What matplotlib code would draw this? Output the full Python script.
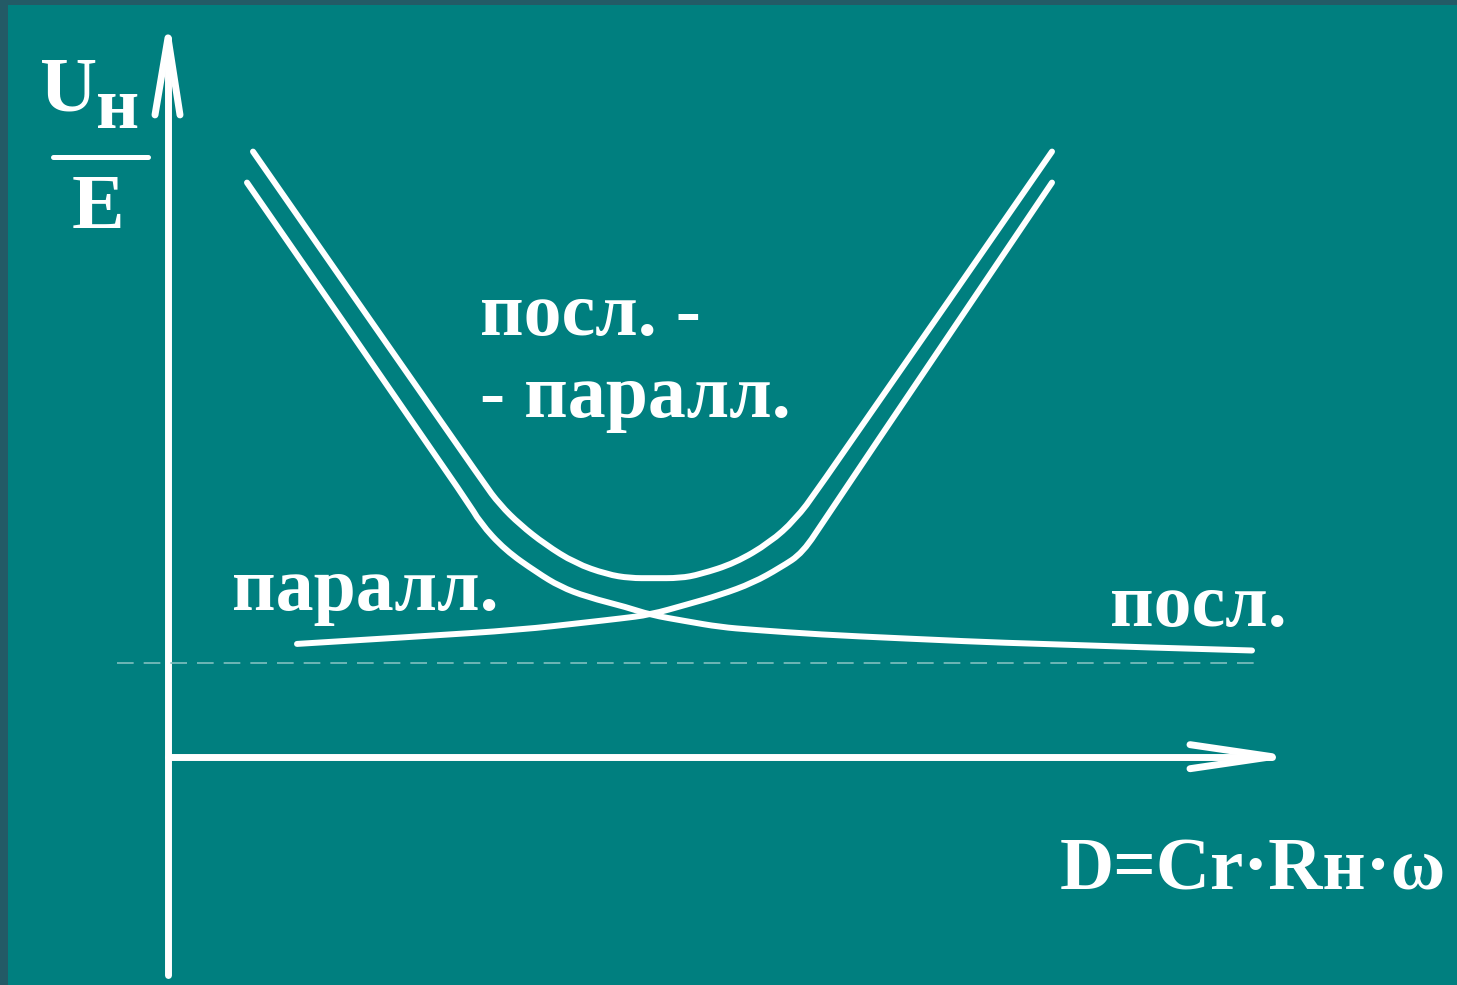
import numpy as np
from matplotlib import pyplot as plt
from matplotlib.path import Path
from matplotlib.patches import PathPatch

# --- данные (D = Cr*Rн*w по оси x, Uн/E по оси y) ---
# последовательно-параллельная схема
sp_x = [0.85, 3.15, 3.32, 3.52, 3.77, 4.07, 4.39, 4.62, 4.85, 5.12, 5.32, 5.67, 6.02, 6.27, 6.50, 8.84]
sp_y = [6.44, 2.92, 2.68, 2.47, 2.26, 2.06, 1.94, 1.90, 1.90, 1.90, 1.94, 2.06, 2.28, 2.52, 2.84, 6.44]
# последовательная схема
ser_x = [0.79, 2.99, 3.12, 3.37, 3.69, 3.92, 4.19, 4.59, 4.82, 5.19, 5.52, 5.85, 6.52, 7.32, 8.59, 10.84]
ser_y = [6.11, 2.73, 2.49, 2.20, 1.96, 1.81, 1.70, 1.59, 1.51, 1.44, 1.38, 1.35, 1.30, 1.26, 1.20, 1.13]
# параллельная схема
par_x = [1.29, 2.52, 3.52, 4.19, 4.52, 4.82, 5.19, 5.52, 5.85, 6.12, 6.35, 6.58, 8.84]
par_y = [1.20, 1.28, 1.35, 1.43, 1.47, 1.51, 1.62, 1.72, 1.85, 2.01, 2.17, 2.55, 6.11]
# асимптота Uн/E = 1
asym_x = [-0.51, 10.87]
asym_y = [1.0, 1.0]

bg = '#007f7f'
white = 'white'
font = 'Liberation Serif'


def smooth(xs, ys):
    # гладкая кривая (квадратичный B-сплайн по опорным точкам)
    p = np.column_stack([xs, ys])
    verts, codes = [p[0]], [Path.MOVETO]
    for i in range(1, len(p) - 1):
        end = (p[i] + p[i + 1]) / 2 if i < len(p) - 2 else p[-1]
        verts += [p[i], end]
        codes += [Path.CURVE3, Path.CURVE3]
    return Path(verts, codes)


fig = plt.figure(figsize=(14.57, 9.85), dpi=100, facecolor='#235a66')
ax = fig.add_axes([8 / 1457, 0, 1 - 8 / 1457, 1 - 5 / 985], facecolor=bg)
ax.set_xlim(-1.60, 12.89)
ax.set_ylim(-2.43, 8.00)
ax.set_xticks([])
ax.set_yticks([])
for s in ax.spines.values():
    s.set_visible(False)

# оси со стрелками
akw = dict(color=white, lw=5, solid_capstyle='round', solid_joinstyle='round')
ax.plot([0, 0], [-2.32, 7.65], **akw)
ax.plot([-0.13, 0, 0.12], [6.83, 7.65, 6.83], **akw)
ax.plot([0, 11.04], [0, 0], **akw)
ax.plot([10.22, 11.04, 10.22], [0.128, 0, -0.128], **akw)

ax.plot(asym_x, asym_y, color='#80bfbf', lw=1.2, linestyle=(0, (10, 6)))

for xs, ys in [(sp_x, sp_y), (ser_x, ser_y), (par_x, par_y)]:
    ax.add_patch(PathPatch(smooth(xs, ys), fill=False, edgecolor=white, lw=4.3,
                           capstyle='round', joinstyle='round'))

tkw = dict(color=white, fontfamily=font, fontweight='bold', va='baseline')
ax.text(3.12, 4.49, 'посл. -', fontsize=54.5, **tkw)
ax.text(3.12, 3.62, '- паралл.', fontsize=54.5, **tkw)
ax.text(0.64, 1.56, 'паралл.', fontsize=54.5, **tkw)
ax.text(9.42, 1.39, 'посл.', fontsize=54.5, **tkw)
ax.text(8.92, -1.415, 'D=Cr·Rн·ω', fontsize=54, **tkw)

# подпись оси y: Uн / E
ax.text(-1.28, 6.88, 'U', fontsize=57, **tkw)
ax.text(-0.72, 6.69, 'н', fontsize=54, **tkw)
ax.plot([-1.15, -0.20], [6.383, 6.383], color=white, lw=3.6, solid_capstyle='round')
ax.text(-0.70, 5.63, 'E', fontsize=57, ha='center', **tkw)

plt.savefig('out.png', dpi=100, facecolor=fig.get_facecolor())
